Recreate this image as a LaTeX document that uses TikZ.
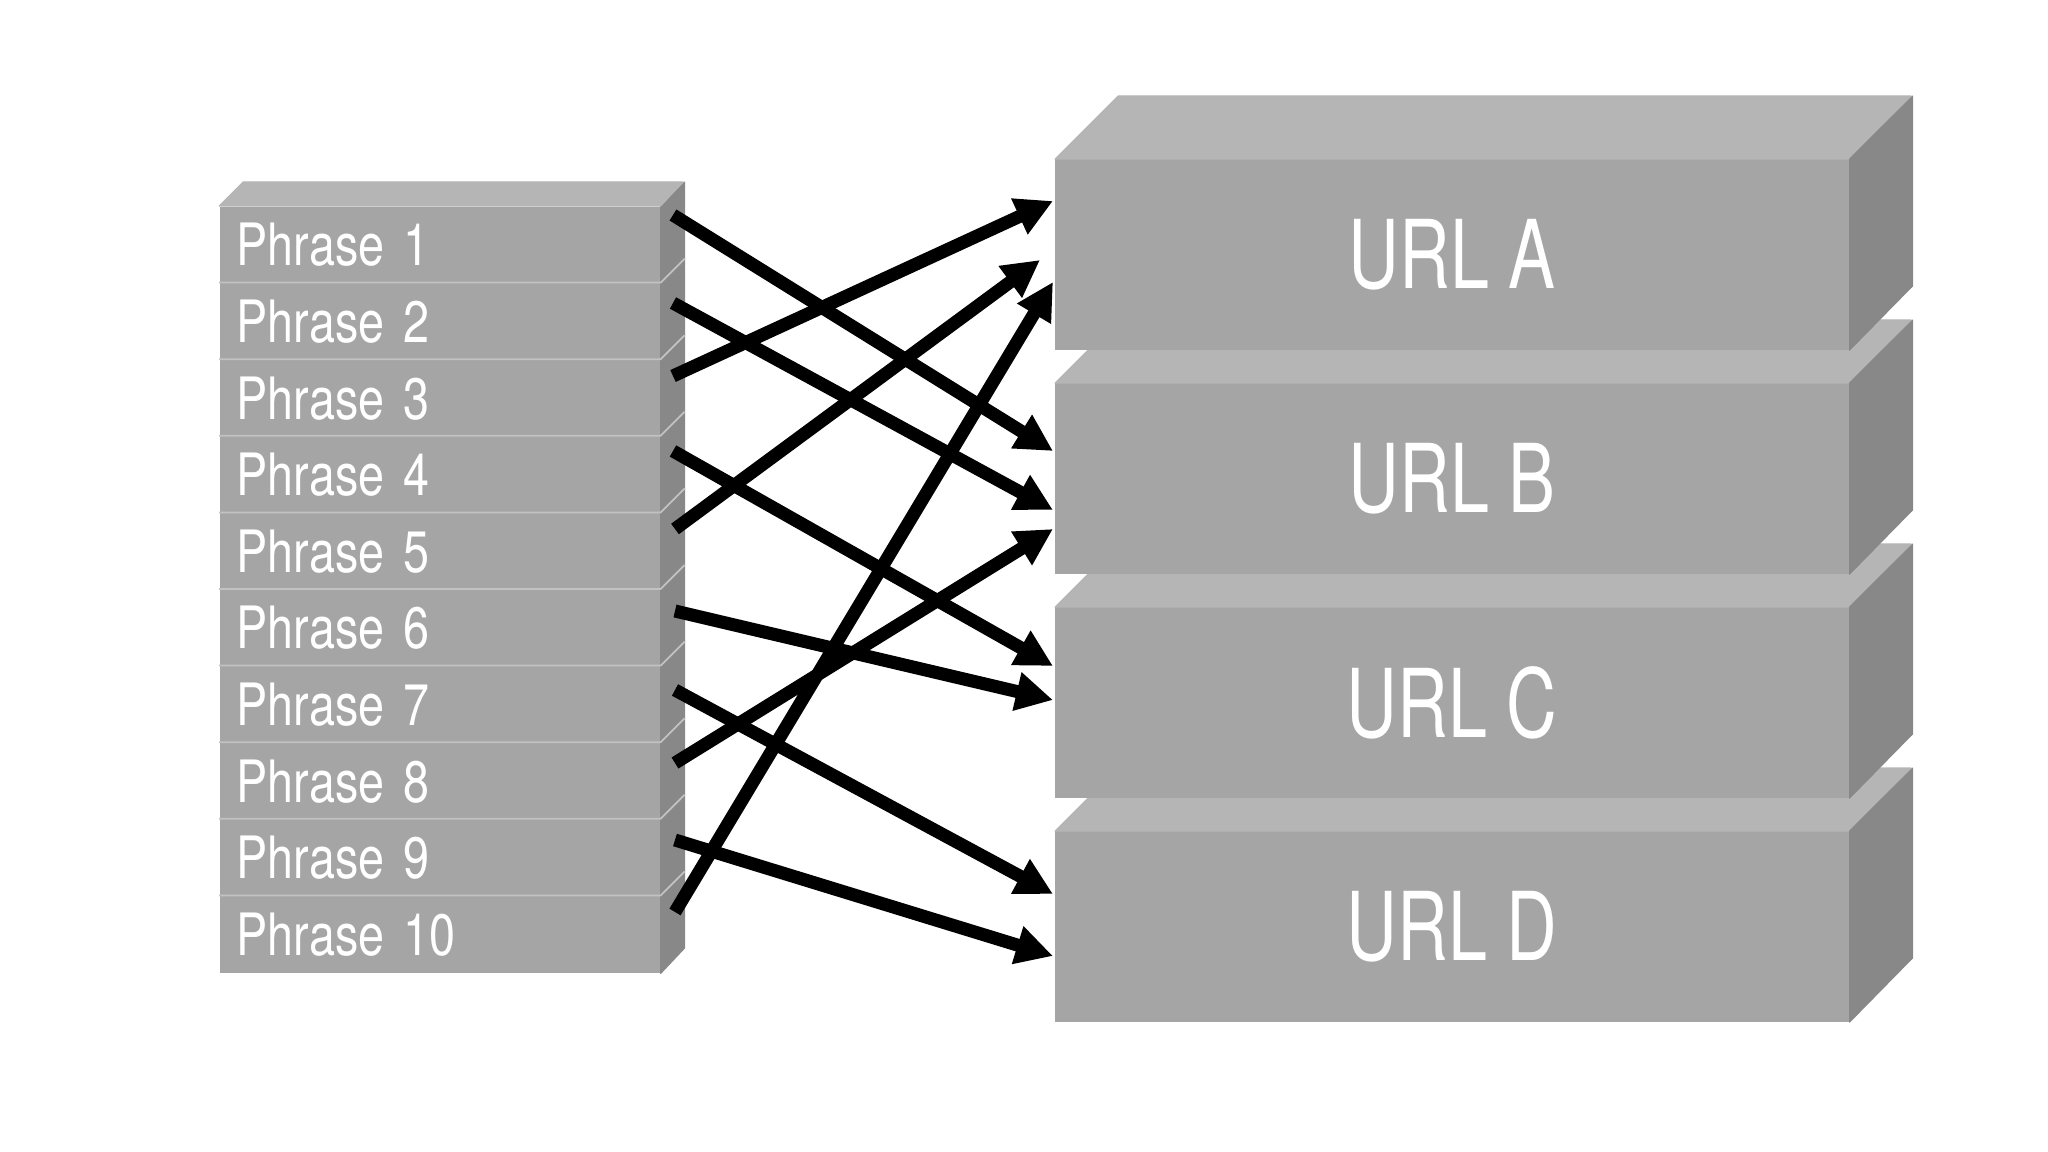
\documentclass[tikz,border=0pt]{standalone}
\usepackage{fontspec}
\usetikzlibrary{arrows.meta,calc}
\newfontfamily\phrasefont{TeX Gyre Heros}[FakeStretch=0.8,WordSpace=0.85]
\newfontfamily\urlfont{TeX Gyre Heros}[FakeStretch=0.74]
\definecolor{frontgray}{HTML}{A5A5A5}
\definecolor{topgray}{HTML}{B5B5B5}
\definecolor{sidegray}{HTML}{888888}
\definecolor{seamgray}{HTML}{C2C2C2}
\tikzset{
  phrasebox/.style={anchor=north west, fill=frontgray, minimum width=4.4cm, minimum height=0.766cm,
    text width=4.06cm, inner xsep=0.17cm, inner ysep=0pt, align=left, text=white,
    font=\phrasefont\fontsize{16.6}{18}\selectfont},
  urlbox/.style={anchor=north west, fill=frontgray, draw=frontgray, line width=0.3pt,
    minimum width=7.93cm, minimum height=1.9cm,
    inner sep=0pt, text=white, font=\urlfont\fontsize{27}{30}\selectfont},
  topface/.style={fill=topgray, draw=topgray, line width=0.3pt, line join=round},
  sideface/.style={fill=sidegray, draw=sidegray, line width=0.3pt, line join=round},
  seam/.style={draw=seamgray, line width=0.5pt},
  arr/.style={line width=0.13cm, -{Triangle[length=0.37cm, width=0.37cm]}}
}
\begin{document}
\begin{tikzpicture}[x=0.01cm, y=-0.01cm]
\useasboundingbox (0,0) rectangle (2048,1152);
% ---------- URL boxes (bottom first) ----------
\foreach \nm/\lab/\tp in {uD/URL D/831, uC/URL C/607, uB/URL B/383, uA/URL A/159}{
  \node[urlbox] (\nm) at (1055,\tp) {\lab};
  \filldraw[topface] (\nm.north west) -- ++(63,-63) -- ++(793,0) -- (\nm.north east) -- cycle;
  \filldraw[sideface] (\nm.north east) -- ++(63,-63) -- ++(0,190) -- (\nm.south east) -- cycle;
}
% ---------- Phrase stack ----------
\foreach \i in {1,...,10}{
  \pgfmathsetmacro{\tp}{206+76.6*(\i-1)}
  \node[phrasebox] (p\i) at (219,\tp) {Phrase \i};
  \filldraw[sideface] (p\i.north east) -- ++(24,-24) -- ++(0,76.6) -- (p\i.south east) -- cycle;
}
\filldraw[topface] (p1.north west) -- ++(24,-24) -- ++(440,0) -- (p1.north east) -- cycle;
\foreach \i in {2,...,10}{
  \draw[seam] (p\i.north west) -- (p\i.north east) -- ++(24,-24);
}
% ---------- arrow ends ----------
\coordinate (s1) at (673,215);  \coordinate (t1) at (1053,451);
\coordinate (s2) at (673,303);  \coordinate (t2) at (1053,510);
\coordinate (s3) at (673,376);  \coordinate (t3) at (1053,201);
\coordinate (s4) at (673,451);  \coordinate (t4) at (1053,666);
\coordinate (s5) at (675,529);  \coordinate (t5) at (1040,260);
\coordinate (s6) at (675,611);  \coordinate (t6) at (1053,700);
\coordinate (s7) at (675,690);  \coordinate (t7) at (1053,894);
\coordinate (s8) at (675,763);  \coordinate (t8) at (1053,529);
\coordinate (s9) at (675,840);  \coordinate (t9) at (1053,956);
\coordinate (s10) at (675,912); \coordinate (t10) at (1053,282);
\foreach \i in {1,...,10}{
  \draw[arr] (s\i) -- (t\i);
}
\end{tikzpicture}
\end{document}
